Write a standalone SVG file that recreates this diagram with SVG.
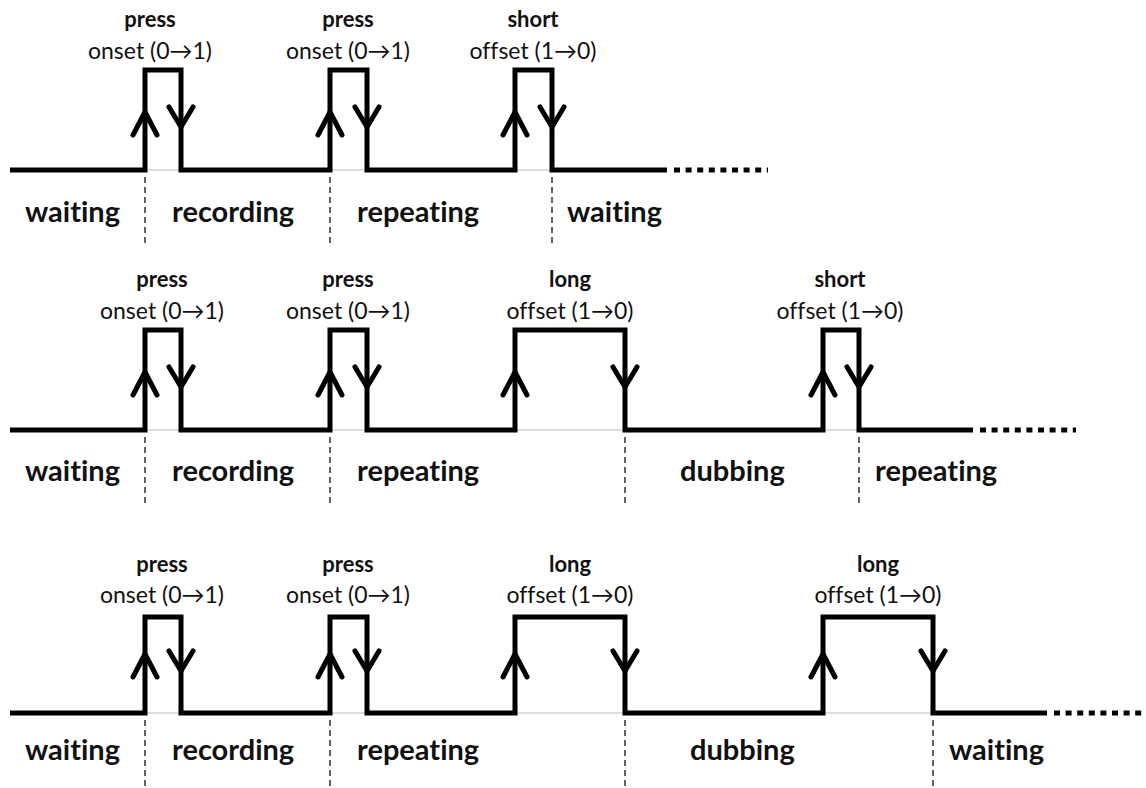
<svg xmlns="http://www.w3.org/2000/svg" xmlns:xlink="http://www.w3.org/1999/xlink" width="1146" height="788" viewBox="0 0 1146 788">
<style>
text{font-variant-ligatures:none;font-feature-settings:"liga" 0,"clig" 0}
.sig{fill:none;stroke:#000;stroke-width:5;stroke-linejoin:miter}
.base{stroke:#bbb;stroke-width:1.2}
.dots{stroke:#000;stroke-width:5;stroke-dasharray:6 5.6}
.dash{stroke:#222;stroke-width:1.4;stroke-dasharray:6 4}
.arr{fill:none;stroke:#000;stroke-width:5;stroke-linecap:round;stroke-linejoin:miter}
.ev{font-family:Lato,"Open Sans",sans-serif;font-weight:bold;font-size:22px;fill:#111;text-anchor:middle}
.sub{font-family:Lato,"Open Sans","DejaVu Sans",sans-serif;font-size:23px;fill:#111;text-anchor:middle}
.st{font-family:Lato,"Open Sans",sans-serif;font-weight:bold;font-size:29px;fill:#111}
</style>
<defs>
<path id="up" class="arr" d="M-12,23 L0,0 L12,23"/>
<path id="dn" class="arr" d="M-12,-20 L0,0 L12,-20"/>
</defs>
<rect width="1146" height="788" fill="#fff"/>

<g id="row1">
<line class="base" x1="10" y1="170" x2="667" y2="170"/>
<path class="sig" d="M10,170 H145 V70 H181 V170 H330 V70 H367 V170 H515 V70 H552 V170 H667"/>
<line class="dots" x1="674" y1="170" x2="768" y2="170"/>
<use xlink:href="#up" x="145" y="112"/><use xlink:href="#dn" x="181" y="127"/>
<use xlink:href="#up" x="330" y="112"/><use xlink:href="#dn" x="367" y="127"/>
<use xlink:href="#up" x="515" y="112"/><use xlink:href="#dn" x="552" y="127"/>
<line class="dash" x1="145" y1="177" x2="145" y2="246"/>
<line class="dash" x1="330" y1="177" x2="330" y2="246"/>
<line class="dash" x1="552" y1="177" x2="552" y2="246"/>
<text class="ev" x="150" y="27">press</text><text class="sub" x="150" y="59">onset (0→1)</text>
<text class="ev" x="348" y="27">press</text><text class="sub" x="348" y="59">onset (0→1)</text>
<text class="ev" x="533" y="27">short</text><text class="sub" x="533" y="59">offset (1→0)</text>
<text class="st" x="25" y="222">waiting</text>
<text class="st" x="172" y="222">recording</text>
<text class="st" x="357" y="222">repeating</text>
<text class="st" x="567" y="222">waiting</text>
</g>

<g id="row2">
<line class="base" x1="10" y1="430" x2="973" y2="430"/>
<path class="sig" d="M10,430 H145 V330 H181 V430 H330 V330 H367 V430 H515 V330 H625 V430 H823 V330 H859 V430 H973"/>
<line class="dots" x1="980" y1="430" x2="1076" y2="430"/>
<use xlink:href="#up" x="145" y="372"/><use xlink:href="#dn" x="181" y="387"/>
<use xlink:href="#up" x="330" y="372"/><use xlink:href="#dn" x="367" y="387"/>
<use xlink:href="#up" x="515" y="372"/><use xlink:href="#dn" x="625" y="387"/>
<use xlink:href="#up" x="823" y="372"/><use xlink:href="#dn" x="859" y="387"/>
<line class="dash" x1="145" y1="437" x2="145" y2="506"/>
<line class="dash" x1="330" y1="437" x2="330" y2="506"/>
<line class="dash" x1="625" y1="437" x2="625" y2="506"/>
<line class="dash" x1="859" y1="437" x2="859" y2="506"/>
<text class="ev" x="162" y="287">press</text><text class="sub" x="162" y="319">onset (0→1)</text>
<text class="ev" x="348" y="287">press</text><text class="sub" x="348" y="319">onset (0→1)</text>
<text class="ev" x="570" y="287">long</text><text class="sub" x="570" y="319">offset (1→0)</text>
<text class="ev" x="840" y="287">short</text><text class="sub" x="840" y="319">offset (1→0)</text>
<text class="st" x="25" y="481">waiting</text>
<text class="st" x="172" y="481">recording</text>
<text class="st" x="357" y="481">repeating</text>
<text class="st" x="680" y="481">dubbing</text>
<text class="st" x="875" y="481">repeating</text>
</g>

<g id="row3">
<line class="base" x1="10" y1="713" x2="1047" y2="713"/>
<path class="sig" d="M10,713 H145 V617 H181 V713 H330 V617 H367 V713 H515 V617 H625 V713 H823 V617 H933 V713 H1047"/>
<line class="dots" x1="1054" y1="713" x2="1146" y2="713"/>
<use xlink:href="#up" x="145" y="654"/><use xlink:href="#dn" x="181" y="671"/>
<use xlink:href="#up" x="330" y="654"/><use xlink:href="#dn" x="367" y="671"/>
<use xlink:href="#up" x="515" y="654"/><use xlink:href="#dn" x="625" y="671"/>
<use xlink:href="#up" x="823" y="654"/><use xlink:href="#dn" x="933" y="671"/>
<line class="dash" x1="145" y1="720" x2="145" y2="788"/>
<line class="dash" x1="330" y1="720" x2="330" y2="788"/>
<line class="dash" x1="625" y1="720" x2="625" y2="788"/>
<line class="dash" x1="933" y1="720" x2="933" y2="788"/>
<text class="ev" x="162" y="572">press</text><text class="sub" x="162" y="603">onset (0→1)</text>
<text class="ev" x="348" y="572">press</text><text class="sub" x="348" y="603">onset (0→1)</text>
<text class="ev" x="570" y="572">long</text><text class="sub" x="570" y="603">offset (1→0)</text>
<text class="ev" x="878" y="572">long</text><text class="sub" x="878" y="603">offset (1→0)</text>
<text class="st" x="25" y="760">waiting</text>
<text class="st" x="172" y="760">recording</text>
<text class="st" x="357" y="760">repeating</text>
<text class="st" x="690" y="760">dubbing</text>
<text class="st" x="949" y="760">waiting</text>
</g>
</svg>
